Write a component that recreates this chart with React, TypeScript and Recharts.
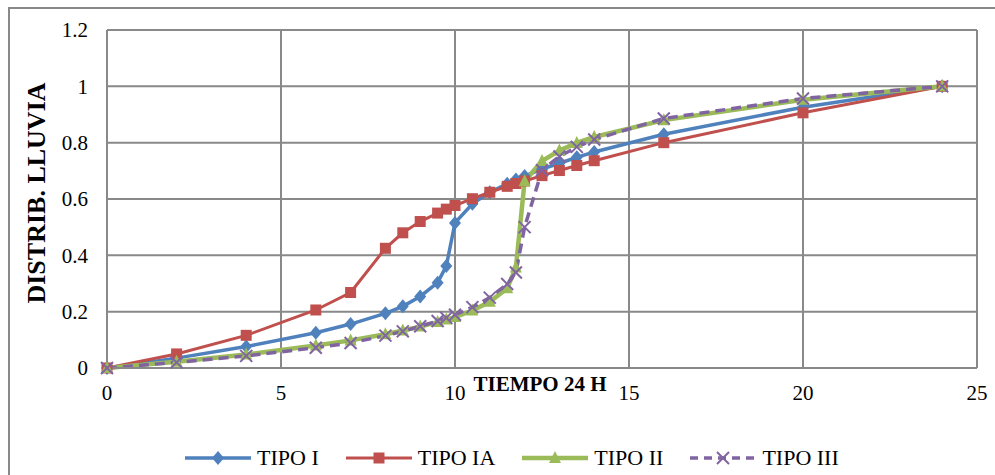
import React from 'react';
import {LineChart, Line, XAxis, YAxis, CartesianGrid, Label} from 'recharts';

const tiempo = [0, 2, 4, 6, 7, 8, 8.5, 9, 9.5, 9.75, 10, 10.5, 11, 11.5, 11.75, 12, 12.5, 13, 13.5, 14, 16, 20, 24];
const tipoI = [0, 0.035, 0.076, 0.125, 0.156, 0.194, 0.219, 0.254, 0.303, 0.362, 0.515, 0.583, 0.624, 0.654, 0.669, 0.682, 0.706, 0.727, 0.748, 0.767, 0.83, 0.926, 1];
const tipoIA = [0, 0.05, 0.116, 0.206, 0.268, 0.425, 0.48, 0.52, 0.55, 0.564, 0.577, 0.601, 0.624, 0.645, 0.655, 0.664, 0.683, 0.701, 0.719, 0.736, 0.8, 0.906, 1];
const tipoII = [0, 0.022, 0.048, 0.08, 0.098, 0.12, 0.133, 0.147, 0.163, 0.172, 0.181, 0.204, 0.235, 0.283, 0.357, 0.663, 0.735, 0.772, 0.799, 0.82, 0.88, 0.952, 1];
const tipoIII = [0, 0.02, 0.043, 0.072, 0.089, 0.115, 0.13, 0.148, 0.167, 0.178, 0.189, 0.216, 0.25, 0.298, 0.339, 0.5, 0.702, 0.751, 0.785, 0.811, 0.886, 0.957, 1];

const xTicks = [0, 5, 10, 15, 20, 25];
const yTicks = [0, 0.2, 0.4, 0.6, 0.8, 1, 1.2];

const data = tiempo.map((t, i) => ({
    t,
    tipoI: tipoI[i],
    tipoIA: tipoIA[i],
    tipoII: tipoII[i],
    tipoIII: tipoIII[i],
}));

const BLUE = '#4F81BD';
const RED = '#C0504D';
const GREEN = '#9BBB59';
const PURPLE = '#8064A2';
const GRID = '#898989';
const FONT = "'Times New Roman', 'Liberation Serif', serif";

type Shape = 'diamond' | 'square' | 'triangle' | 'cross';

const Marker = ({cx, cy, shape, color}: {cx: number; cy: number; shape: Shape; color: string}) => {
    if (shape === 'diamond') {
        return <polygon points={`${cx},${cy - 7} ${cx + 6},${cy} ${cx},${cy + 7} ${cx - 6},${cy}`} fill={color}/>;
    }
    if (shape === 'square') {
        return <rect x={cx - 5.5} y={cy - 5.5} width={11} height={11} fill={color}/>;
    }
    if (shape === 'triangle') {
        return <polygon points={`${cx},${cy - 7} ${cx + 6},${cy + 5} ${cx - 6},${cy + 5}`} fill={color}/>;
    }
    return (
        <g stroke={color} strokeWidth={2}>
            <line x1={cx - 6} y1={cy - 6} x2={cx + 6} y2={cy + 6}/>
            <line x1={cx - 6} y1={cy + 6} x2={cx + 6} y2={cy - 6}/>
        </g>
    );
};

const makeDot = (shape: Shape, color: string) => (props: any) => {
    const {cx, cy, index} = props;
    if (cx == null || cy == null) return <g key={`d-${shape}-${index}`}/>;
    return <Marker key={`d-${shape}-${index}`} cx={cx} cy={cy} shape={shape} color={color}/>;
};

const series = [
    {key: 'tipoI', name: 'TIPO I', color: BLUE, shape: 'diamond' as Shape, width: 3.5, dash: undefined},
    {key: 'tipoIA', name: 'TIPO IA', color: RED, shape: 'square' as Shape, width: 3, dash: undefined},
    {key: 'tipoII', name: 'TIPO II', color: GREEN, shape: 'triangle' as Shape, width: 4.5, dash: undefined},
    {key: 'tipoIII', name: 'TIPO III', color: PURPLE, shape: 'cross' as Shape, width: 3.5, dash: '10 6'},
];

const fmt = (v: number) => String(Number(v.toFixed(1)));

const App: React.FC = () => {
    return (
        <div style={{position: 'absolute', left: 0, top: 0, width: 995, height: 475, overflow: 'hidden', background: '#fff'}}>
            <div style={{
                position: 'absolute', left: 8, top: 7, width: 1000, height: 480,
                border: `2px solid ${GRID}`, boxSizing: 'border-box'
            }}/>
            <div style={{position: 'absolute', left: 0, top: 0}}>
                <LineChart
                    width={995}
                    height={475}
                    data={data}
                    margin={{top: 30, right: 18, left: 47, bottom: 67}}
                >
                    <CartesianGrid stroke={GRID} strokeWidth={2}/>
                    <XAxis
                        dataKey="t"
                        type="number"
                        domain={[0, 25]}
                        ticks={xTicks}
                        height={40}
                        axisLine={{stroke: GRID, strokeWidth: 2}}
                        tickLine={false}
                        tickSize={0}
                        tickMargin={17}
                        tick={{fill: '#000', fontSize: 21, fontFamily: FONT}}
                        interval={0}
                    >
                        <Label content={() => (
                            <text x={540} y={391} textAnchor="middle" fontFamily={FONT} fontSize={21}
                                  fontWeight="bold" fill="#000">TIEMPO 24 H</text>
                        )}/>
                    </XAxis>
                    <YAxis
                        type="number"
                        domain={[0, 1.2]}
                        ticks={yTicks}
                        width={60}
                        axisLine={{stroke: GRID, strokeWidth: 2}}
                        tickLine={false}
                        tickSize={0}
                        tickMargin={19}
                        tickFormatter={fmt}
                        tick={{fill: '#000', fontSize: 21, fontFamily: FONT}}
                        interval={0}
                    >
                        <Label content={() => (
                            <text x={45} y={193} transform="rotate(-90 45 193)" textAnchor="middle"
                                  fontFamily={FONT} fontSize={26} fontWeight="bold" fill="#000">DISTRIB. LLUVIA</text>
                        )}/>
                    </YAxis>
                    {series.map(s => (
                        <Line
                            key={s.key}
                            type="linear"
                            dataKey={s.key}
                            name={s.name}
                            stroke={s.color}
                            strokeWidth={s.width}
                            strokeDasharray={s.dash}
                            dot={makeDot(s.shape, s.color)}
                            activeDot={false}
                            isAnimationActive={false}
                        />
                    ))}
                </LineChart>
            </div>
            <div style={{
                position: 'absolute', left: 185, top: 446, display: 'flex', alignItems: 'center',
                fontFamily: FONT, fontSize: 22, color: '#000', whiteSpace: 'nowrap'
            }}>
                {series.map(s => (
                    <div key={s.key} style={{display: 'flex', alignItems: 'center', marginRight: 27}}>
                        <svg width={66} height={24}>
                            <line x1={0} y1={12} x2={66} y2={12} stroke={s.color} strokeWidth={s.width}
                                  strokeDasharray={s.dash ? '8 6' : undefined}/>
                            <Marker cx={33} cy={12} shape={s.shape} color={s.color}/>
                        </svg>
                        <span style={{marginLeft: 6, lineHeight: '24px'}}>{s.name}</span>
                    </div>
                ))}
            </div>
        </div>
    );
};

export default App;
